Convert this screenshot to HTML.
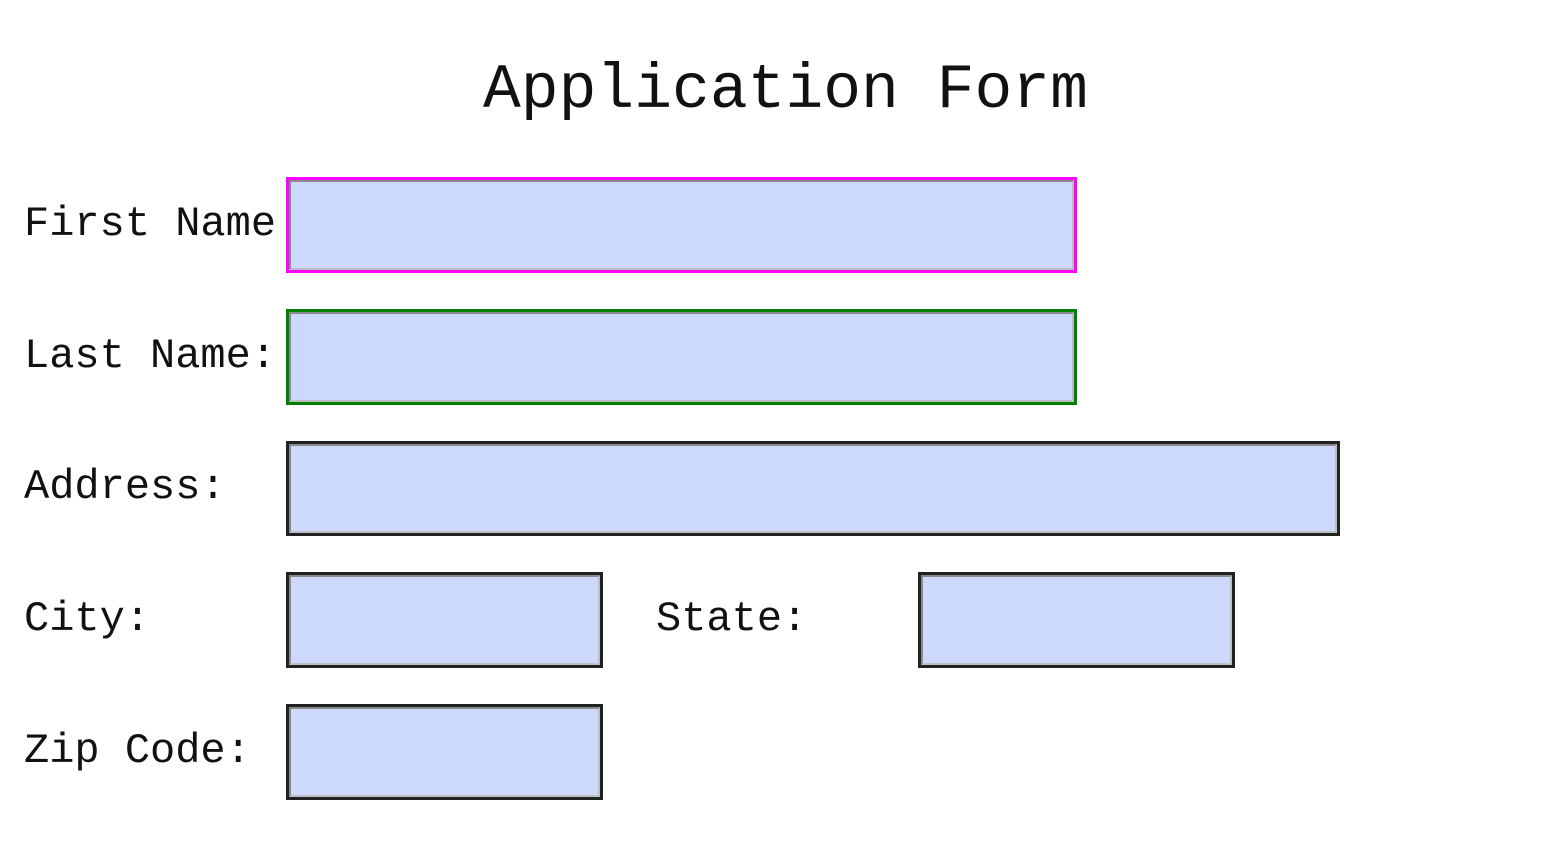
<!DOCTYPE html>
<html><head><style>
html,body{margin:0;padding:0;background:#fff;width:1557px;height:847px;overflow:hidden}
body{position:relative;font-family:"Liberation Mono",monospace;color:#111}
.t{position:absolute;white-space:nowrap;line-height:1}
.b{position:absolute;box-sizing:border-box;border:3px solid #222;background:#ccd8fc}
.b::after{content:"";position:absolute;inset:0;border:2px solid;border-color:#8a8a8a #bdbdc4 #bdbdc4 #8a8a8a}
</style></head><body>
<div class="t" style="left:483px;top:59px;font-size:63px">Application Form</div>
<div class="t" style="left:24px;top:203px;font-size:42px">First Name</div>
<div class="t" style="left:24px;top:335px;font-size:42px">Last Name:</div>
<div class="t" style="left:24px;top:466px;font-size:42px">Address:</div>
<div class="t" style="left:24px;top:598px;font-size:42px">City:</div>
<div class="t" style="left:656px;top:598px;font-size:42px">State:</div>
<div class="t" style="left:24px;top:730px;font-size:42px">Zip Code:</div>
<div class="b" style="left:286px;top:177px;width:791px;height:96px;border-color:#f0f"></div>
<div class="b" style="left:286px;top:309px;width:791px;height:96px;border-color:#008000"></div>
<div class="b" style="left:286px;top:441px;width:1054px;height:95px"></div>
<div class="b" style="left:286px;top:572px;width:317px;height:96px"></div>
<div class="b" style="left:918px;top:572px;width:317px;height:96px"></div>
<div class="b" style="left:286px;top:704px;width:317px;height:96px"></div>
</body></html>
